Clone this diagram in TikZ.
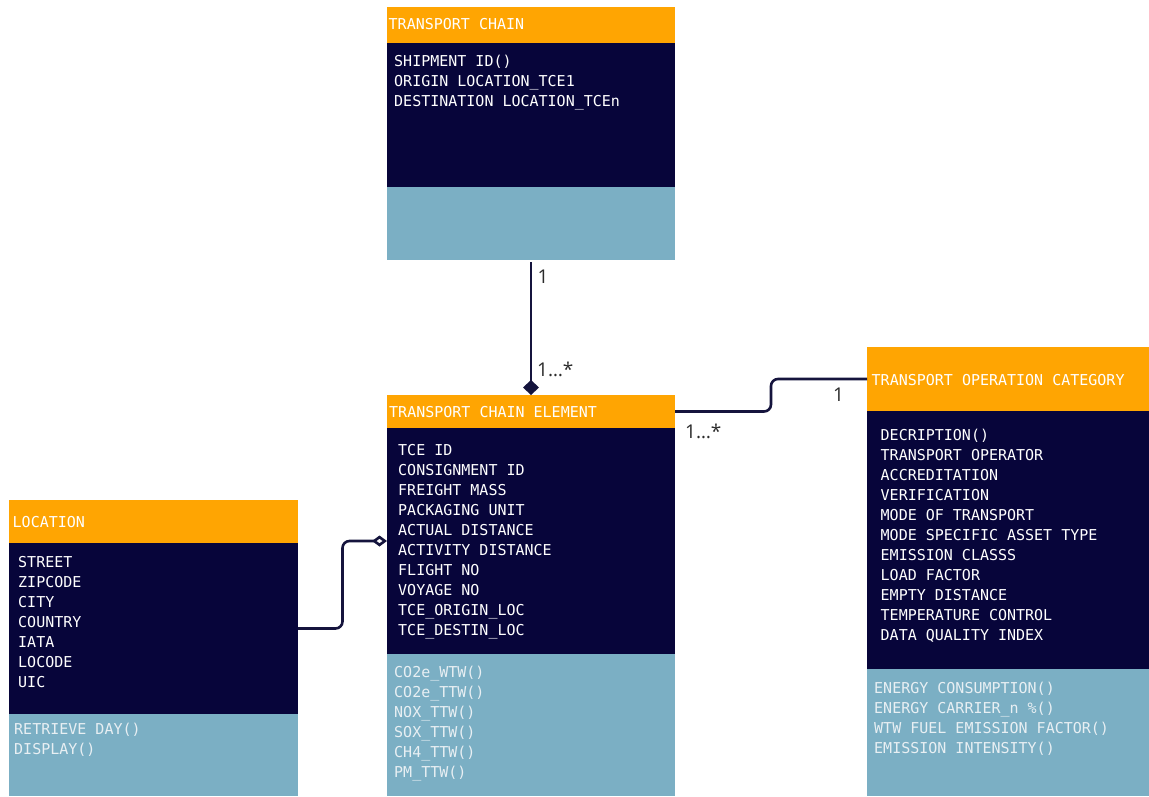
\documentclass[tikz,border=0pt]{standalone}
\usepackage{fontspec}
\newfontfamily\plexmono{DejaVu Sans Mono}
\newfontfamily\labelsans{Open Sans}
\usetikzlibrary{arrows.meta,calc}
\definecolor{hdrorange}{HTML}{FFA502}
\definecolor{bodynavy}{HTML}{07053A}
\definecolor{methblue}{HTML}{7BAFC4}
\definecolor{linenavy}{HTML}{15143D}
\definecolor{lblgray}{HTML}{2B2B2B}
\definecolor{methtext}{HTML}{E8EFF3}
\newcommand\umlrows[1]{\vtop{#1}}
\newcommand\rw[1]{\hbox{#1}}
\begin{document}
\begin{tikzpicture}[x=1pt,y=-1pt,
  part/.style={draw=none, inner sep=0pt, outer sep=0pt, anchor=north west},
  hdr/.style={part, fill=hdrorange},
  bodyb/.style={part, fill=bodynavy},
  methb/.style={part, fill=methblue},
  txt/.style={font=\plexmono\fontsize{15}{20}\selectfont, inner sep=0pt, anchor=base west, text=white},
  mtxt/.style={txt, text=methtext},
  conn/.style={draw=linenavy, line width=2.6pt, rounded corners=7pt},
  mult/.style={font=\labelsans\fontsize{19}{20}\selectfont, text=lblgray, inner sep=0pt, anchor=base west}]
\useasboundingbox (0,0) rectangle (1149,796);
\fill[white] (0,0) rectangle (1149,796);

% TRANSPORT CHAIN
\node[hdr, minimum width=288pt, minimum height=36pt] (tcH) at (387,7) {};
\node[bodyb, minimum width=288pt, minimum height=144pt] (tcB) at (387,43) {};
\node[methb, minimum width=288pt, minimum height=73pt] (tcM) at (387,187) {};
\node[txt] (tcHt) at (388.5,29.5) {TRANSPORT CHAIN};
\node[txt] (tcBt) at (394,66.5) {\umlrows{\rw{SHIPMENT ID()}\rw{ORIGIN LOCATION\_TCE1}\rw{DESTINATION LOCATION\_TCEn}}};

% TRANSPORT CHAIN ELEMENT
\node[hdr, minimum width=288pt, minimum height=33pt] (tceH) at (387,395) {};
\node[bodyb, minimum width=288pt, minimum height=226pt] (tceB) at (387,428) {};
\node[methb, minimum width=288pt, minimum height=142pt] (tceM) at (387,654) {};
\node[txt] (tceHt) at (389,417) {TRANSPORT CHAIN ELEMENT};
\node[txt] (tceBt) at (398,455.5) {\umlrows{\rw{TCE ID}\rw{CONSIGNMENT ID}\rw{FREIGHT MASS}\rw{PACKAGING UNIT}\rw{ACTUAL DISTANCE}\rw{ACTIVITY DISTANCE}\rw{FLIGHT NO}\rw{VOYAGE NO}\rw{TCE\_ORIGIN\_LOC}\rw{TCE\_DESTIN\_LOC}}};
\node[mtxt] (tceMt) at (394,677) {\umlrows{\rw{CO2e\_WTW()}\rw{CO2e\_TTW()}\rw{NOX\_TTW()}\rw{SOX\_TTW()}\rw{CH4\_TTW()}\rw{PM\_TTW()}}};

% TRANSPORT OPERATION CATEGORY
\node[hdr, minimum width=282pt, minimum height=64pt] (tocH) at (867,347) {};
\node[bodyb, minimum width=282pt, minimum height=258pt] (tocB) at (867,411) {};
\node[methb, minimum width=282pt, minimum height=127pt] (tocM) at (867,669) {};
\node[txt] (tocHt) at (871.5,385) {TRANSPORT OPERATION CATEGORY};
\node[txt] (tocBt) at (880.5,440.5) {\umlrows{\rw{DECRIPTION()}\rw{TRANSPORT OPERATOR}\rw{ACCREDITATION}\rw{VERIFICATION}\rw{MODE OF TRANSPORT}\rw{MODE SPECIFIC ASSET TYPE}\rw{EMISSION CLASSS}\rw{LOAD FACTOR}\rw{EMPTY DISTANCE}\rw{TEMPERATURE CONTROL}\rw{DATA QUALITY INDEX}}};
\node[mtxt] (tocMt) at (874,693.5) {\umlrows{\rw{ENERGY CONSUMPTION()}\rw{ENERGY CARRIER\_n \%()}\rw{WTW FUEL EMISSION FACTOR()}\rw{EMISSION INTENSITY()}}};

% LOCATION
\node[hdr, minimum width=289pt, minimum height=43pt] (locH) at (9,500) {};
\node[bodyb, minimum width=289pt, minimum height=171pt] (locB) at (9,543) {};
\node[methb, minimum width=289pt, minimum height=82pt] (locM) at (9,714) {};
\node[txt] (locHt) at (12.5,527) {LOCATION};
\node[txt] (locBt) at (18,567.5) {\umlrows{\rw{STREET}\rw{ZIPCODE}\rw{CITY}\rw{COUNTRY}\rw{IATA}\rw{LOCODE}\rw{UIC}}};
\node[mtxt] (locMt) at (14,734) {\umlrows{\rw{RETRIEVE DAY()}\rw{DISPLAY()}}};

% connectors
\draw[conn, -{Diamond[length=15pt, width=16pt]}] ([yshift=-2pt]tcM.south) -- (tceH.north);
\draw[conn] (tceH.east) -| ($(tceH.east)!0.5!(tocH.west)$) |- (tocH.west);
\draw[conn, -{Diamond[open, length=15pt, width=11pt, fill=white]}] (locB.east) -| ($(locB.east)!0.5!(tceB.west)$) |- (tceB.west);

% multiplicities
\node[mult] (m1) at (537.5,283.5) {1};
\node[mult] (m2) at (537,376.5) {1…*};
\node[mult] (m3) at (685,438) {1…*};
\node[mult] (m4) at (833,401) {1};
\end{tikzpicture}
\end{document}
